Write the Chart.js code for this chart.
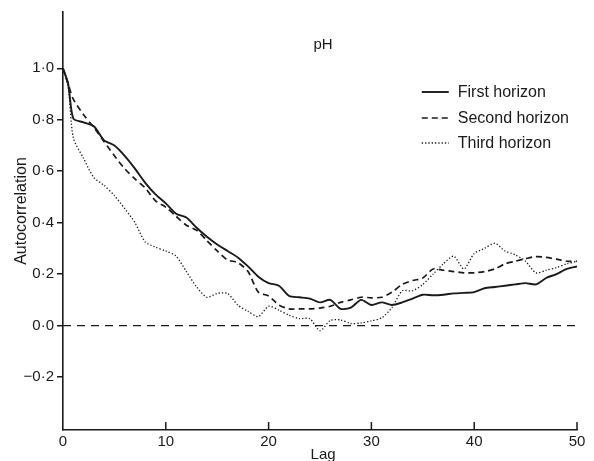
<!DOCTYPE html>
<html>
<head>
<meta charset="utf-8">
<script src="https://cdn.jsdelivr.net/npm/chart.js@4"></script>
<style>
  html, body { margin: 0; padding: 0; background: #fff; }
  #wrap { width: 594px; height: 461px; position: relative; }
</style>
</head>
<body>
<div id="wrap"><canvas id="acf"></canvas></div>
<script>
// lags
const lags = [0, 0.5, 1, 2, 3, 4, 5, 6, 7, 8, 9, 10, 11, 12, 13, 14, 15, 16, 17, 18, 19, 20,
  21, 22, 23, 24, 25, 26, 27, 28, 29, 30, 31, 32, 33, 34, 35, 36, 37, 38, 39, 40,
  41, 42, 43, 44, 45, 46, 47, 48, 49, 50];

const firstHorizon = [1.0, 0.94, 0.805, 0.79, 0.775, 0.72, 0.70, 0.66, 0.61, 0.555, 0.51, 0.475,
  0.435, 0.42, 0.38, 0.345, 0.315, 0.29, 0.265, 0.23, 0.19, 0.165,
  0.155, 0.115, 0.11, 0.105, 0.09, 0.10, 0.065, 0.07, 0.10, 0.08,
  0.09, 0.08, 0.09, 0.105, 0.12, 0.118, 0.12, 0.125, 0.127, 0.13,
  0.145, 0.15, 0.155, 0.16, 0.165, 0.16, 0.185, 0.20, 0.22, 0.23];

const secondHorizon = [1.0, 0.94, 0.88, 0.82, 0.77, 0.715, 0.66, 0.61, 0.57, 0.535, 0.485, 0.46,
  0.425, 0.39, 0.37, 0.33, 0.29, 0.255, 0.245, 0.21, 0.13, 0.115,
  0.08, 0.065, 0.065, 0.065, 0.068, 0.075, 0.09, 0.10, 0.11, 0.108,
  0.11, 0.13, 0.16, 0.175, 0.185, 0.22, 0.215, 0.21, 0.205, 0.205,
  0.21, 0.22, 0.24, 0.25, 0.26, 0.268, 0.265, 0.258, 0.25, 0.25];

const thirdHorizon = [1.0, 0.93, 0.73, 0.65, 0.575, 0.545, 0.505, 0.455, 0.40, 0.325, 0.305, 0.29,
  0.27, 0.21, 0.15, 0.11, 0.125, 0.125, 0.08, 0.055, 0.035, 0.075,
  0.06, 0.04, 0.027, 0.027, -0.02, 0.02, 0.022, 0.008, 0.01, 0.018,
  0.03, 0.07, 0.135, 0.135, 0.16, 0.20, 0.24, 0.27, 0.22, 0.28,
  0.30, 0.32, 0.29, 0.275, 0.25, 0.205, 0.215, 0.225, 0.24, 0.25];

const seriesNames = ['First horizon', 'Second horizon', 'Third horizon'];
const yTicks = [-0.2, 0, 0.2, 0.4, 0.6, 0.8, 1.0];
const yTickLabels = ['\u22120\u00b72', '0\u00b70', '0\u00b72', '0\u00b74', '0\u00b76', '0\u00b78', '1\u00b70'];
const xTicks = [0, 10, 20, 30, 40, 50];

const ink = '#1a1a1a';
const font = "'Liberation Sans', Arial, sans-serif";
const dashes = [[], [6, 4], [1.3, 2]];
const widths = [1.9, 1.7, 1.3];

function toPoints(ys) {
  return lags.map((x, i) => ({ x: x, y: ys[i] }));
}

// zero line, inward x ticks, title, legend and axis titles
const decor = {
  id: 'decor',
  beforeDatasetsDraw(chart) {
    const { ctx, scales: { x, y } } = chart;
    const y0 = y.getPixelForValue(0);
    ctx.save();
    ctx.strokeStyle = ink;
    ctx.lineWidth = 1.2;
    ctx.setLineDash([8, 6]);
    ctx.beginPath();
    ctx.moveTo(x.getPixelForValue(0), y0);
    ctx.lineTo(x.getPixelForValue(50), y0);
    ctx.stroke();
    ctx.restore();
  },
  afterDraw(chart) {
    const { ctx, chartArea, scales: { x, y } } = chart;
    ctx.save();
    ctx.strokeStyle = ink;
    ctx.lineWidth = 1.5;
    xTicks.slice(1).forEach(v => {
      const px = x.getPixelForValue(v);
      ctx.beginPath();
      ctx.moveTo(px, chartArea.bottom);
      ctx.lineTo(px, chartArea.bottom - 8);
      ctx.stroke();
    });

    ctx.fillStyle = ink;
    ctx.font = '15px ' + font;
    ctx.textAlign = 'center';
    ctx.textBaseline = 'middle';
    ctx.fillText('pH', x.getPixelForValue(25.3), 45);

    // legend
    ctx.font = '16px ' + font;
    const lx = x.getPixelForValue(34.9);
    const rows = [92, 118, 143];
    seriesNames.forEach((name, i) => {
      ctx.lineWidth = widths[i];
      ctx.setLineDash(dashes[i]);
      ctx.beginPath();
      ctx.moveTo(lx, rows[i]);
      ctx.lineTo(lx + 27, rows[i]);
      ctx.stroke();
      ctx.setLineDash([]);
      ctx.textAlign = 'left';
      ctx.fillText(name, lx + 36, rows[i] + 1);
    });

    ctx.font = '15px ' + font;
    ctx.textAlign = 'center';
    ctx.fillText('Lag', x.getPixelForValue(25.3), 455);

    ctx.font = '16px ' + font;
    ctx.translate(22, 211);
    ctx.rotate(-Math.PI / 2);
    ctx.fillText('Autocorrelation', 0, 0);
    ctx.restore();
  }
};

new Chart(document.getElementById('acf'), {
  type: 'line',
  data: {
    datasets: [firstHorizon, secondHorizon, thirdHorizon].map((ys, i) => ({
      label: seriesNames[i],
      data: toPoints(ys),
      borderColor: ink,
      borderWidth: widths[i],
      borderDash: dashes[i],
      pointRadius: 0,
      tension: 0.25,
      fill: false
    }))
  },
  options: {
    responsive: true,
    maintainAspectRatio: false,
    animation: false,
    layout: { padding: { top: 10, right: 17, left: 0, bottom: 0 } },
    plugins: { legend: { display: false }, tooltip: { enabled: false } },
    scales: {
      x: {
        type: 'linear',
        min: 0,
        max: 50,
        afterFit: s => { s.height = 31; },
        afterBuildTicks: s => { s.ticks = xTicks.map(v => ({ value: v })); },
        grid: { drawOnChartArea: false, drawTicks: false },
        border: { color: ink, width: 1.6 },
        ticks: { color: ink, font: { family: font, size: 15 }, padding: 3, maxRotation: 0 }
      },
      y: {
        min: -0.406,
        max: 1.219,
        afterFit: s => { s.width = 63; },
        afterBuildTicks: s => { s.ticks = yTicks.map(v => ({ value: v })); },
        grid: { drawOnChartArea: false, tickLength: 6, color: ink, lineWidth: 1.5 },
        border: { color: ink, width: 1.6 },
        ticks: {
          color: ink,
          font: { family: font, size: 15 },
          padding: 3,
          callback: v => yTickLabels[yTicks.findIndex(t => Math.abs(t - v) < 1e-6)]
        }
      }
    }
  },
  plugins: [decor]
});
</script>
</body>
</html>
